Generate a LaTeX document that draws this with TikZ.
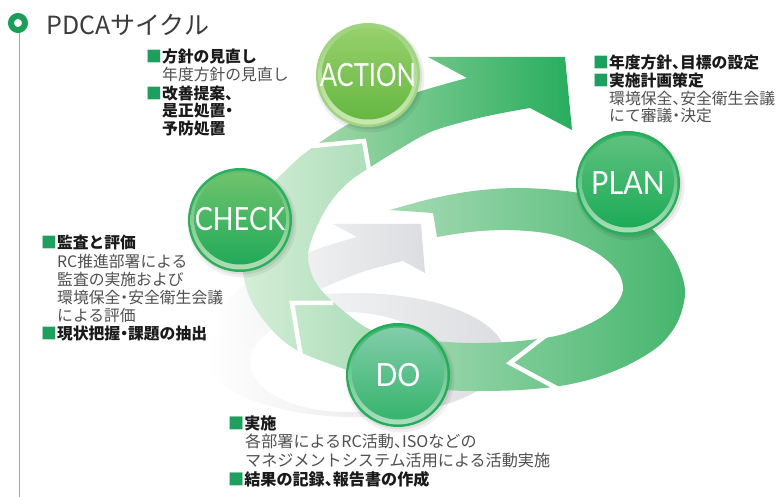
\documentclass[tikz,border=0pt]{standalone}
\usepackage{fontspec}
\usepackage{graphicx}
\newfontfamily\jp{Noto Sans CJK JP}
\newfontfamily\labfont{Lato}

\definecolor{markgreen}{HTML}{1C9E5A}
\definecolor{linegreen}{HTML}{72C394}
\definecolor{sqgreen}{HTML}{1E9F5E}
\definecolor{headtext}{HTML}{1A1A1A}
\definecolor{bodytext}{HTML}{505050}
\definecolor{titletext}{HTML}{3B3B3B}
\definecolor{bandlight}{HTML}{D6EED8}
\definecolor{banddark}{HTML}{45B56D}
\definecolor{toplight}{HTML}{A3D8AA}
\definecolor{topdark}{HTML}{27AD5D}
\definecolor{greyband}{HTML}{DCDDE0}

\newcommand\grsq{{\color{sqgreen}■}}
% half-width comma and middle dot
\newcommand\hcomma{\makebox[0.5em][l]{、}}
\newcommand\hdot{\makebox[0.5em][c]{・}}

% one round PDCA button: x, y, ring, rim top, rim bottom, disc top, disc bottom (HTML codes)
\newcommand\pdcabtn[7]{%
  \definecolor{btnring}{HTML}{#3}%
  \definecolor{btnrimt}{HTML}{#4}%
  \definecolor{btnrimb}{HTML}{#5}%
  \definecolor{btndisct}{HTML}{#6}%
  \definecolor{btndiscb}{HTML}{#7}%
  \fill[black,opacity=0.06] (#1+2,#2+3) circle (54.5);
  \fill[black,opacity=0.07] (#1+1.5,#2+2) circle (52.5);
  \fill[btnring] (#1,#2) circle (52);
  \shade[top color=btnrimt,bottom color=btnrimb] (#1,#2) circle (49.5);
  \shade[top color=btndisct,bottom color=btndiscb] (#1,#2-1.5) circle (46);
}

\begin{document}
\begin{tikzpicture}[x=1pt,y=-1pt,
  bd/.style={anchor=base west,inner sep=0pt,text=bodytext,
    font=\jp\fontsize{15.8}{18}\selectfont},
  hd/.style={bd,text=headtext,font=\jp\bfseries\fontsize{15.8}{18}\selectfont},
  bdl/.style={bd,font=\jp\fontsize{16.1}{18}\selectfont},
  hdl/.style={hd,font=\jp\bfseries\fontsize{16.1}{18}\selectfont},
  btnlabel/.style={text=white,inner sep=0pt,font=\labfont\fontsize{32}{36}\selectfont},
  gap/.style={draw=white,line width=4.5pt,line join=miter,miter limit=20}]

\useasboundingbox (0,0) rectangle (777,497);
\fill[white] (0,0) rectangle (777,497);

% heading marker and side rule
\coordinate (mark) at (18,23);
\coordinate (rulestart) at (19.5,32);
\coordinate (ruleend) at (19.5,497);
\draw[linegreen,line width=1.8pt] (rulestart) -- (ruleend);
\draw[markgreen,line width=6pt] (mark) circle (7);
\node[anchor=base west,inner sep=0pt,text=titletext,font=\jp\fontsize{25}{28}\selectfont] (title) at (46,35) {PDCAサイクル};

% grey lower cycle: ring and rising arrow
\shade[even odd rule,left color=white,right color=greyband]
  (355,355) ellipse (150 and 62) (345,362) ellipse (95 and 50);
\shade[left color=white,right color=greyband]
  plot[smooth] coordinates {(212,335) (220,310) (242,287) (276,268) (315,250) (357,237)}
  -- (333,224) -- (421,224) -- (425,273) -- (403,261)
  -- plot[smooth] coordinates {(403,261) (365,271) (325,287) (290,305) (263,325) (250,347)}
  -- cycle;

% green spiral: tail, right loop, bottom run and left rise
\shade[left color=bandlight,right color=banddark]
  plot[smooth,tension=0.55] coordinates {(390,210) (430,199) (473,191) (520,188) (573,192)
    (615,203) (650,227) (674,257) (685,290) (678,321) (660,345) (630,364) (595,378)
    (560,386) (520,390) (480,391) (447,390) (400,384) (360,374) (330,364) (300,352)
    (280,338) (262,318) (249,296) (243,272) (242,245) (249,217) (263,194) (283,173)
    (300,157) (316,145)}
  -- (364,141)
  -- plot[smooth,tension=0.55] coordinates {(369,168) (350,181) (332,200) (317,226)
    (308,254) (312,275) (321,290) (333,302)}
  -- plot[smooth,tension=0.55] coordinates {(340,308) (367,328) (400,338) (447,342)
    (480,343) (520,341) (560,335) (593,322) (614,307) (623,290) (618,272) (600,255)
    (573,241) (545,233) (507,230) (470,232) (437,237)}
  -- (433,213) -- cycle;

% green spiral: upper arrow with its head
\shade[left color=toplight,right color=topdark]
  (369,168) -- (364,141)
  -- plot[smooth,tension=0.55] coordinates {(316,145) (345,126) (380,108) (415,93) (467,78)}
  -- (428,57) -- (565,57) -- (572,130) -- (530,108)
  -- plot[smooth,tension=0.55] coordinates {(530,108) (483,117) (433,131) (398,150) (369,168)}
  -- cycle;

% white cuts between the spiral segments
\draw[gap] (312,146) -- (364,141) -- (369,170);
\draw[gap] (301,357) -- (292,303) -- (333,303);
\draw[gap] (549,333) -- (510,363) -- (562,391);

% buttons
\pdcabtn{368}{75}{A0D482}{9FD37E}{C8E8B0}{97D06C}{66B742}
\pdcabtn{628}{183}{26AD5B}{34B165}{ABDDB8}{5EC17F}{1CAB56}
\pdcabtn{240}{220}{2BAF5C}{5DBD72}{ADDDB4}{70C36C}{21AA59}
\pdcabtn{398}{375}{22AD58}{3DB46C}{ADDDC0}{82CDAA}{36B46C}

\node[btnlabel] (action) at (368,75) {\scalebox{0.8}[1]{ACTION}};
\node[btnlabel] (plan) at (628,183) {\scalebox{0.9}[1]{PLAN}};
\node[btnlabel] (check) at (240,219) {\scalebox{0.85}[1]{CHECK}};
\node[btnlabel] (do) at (398,375) {\scalebox{0.9}[1]{DO}};

% ACTION notes
\node[hd] (act1) at (146,63) {\grsq 方針の見直し};
\node[bd] (act2) at (162,81) {年度方針の見直し};
\node[hd] (act3) at (146,99.5) {\grsq 改善提案\hcomma};
\node[hd] (act4) at (162,117) {是正処置\hdot};
\node[hd] (act5) at (162,135) {予防処置};

% PLAN notes
\node[hd] (pl1) at (593,69) {\grsq 年度方針\hcomma 目標の設定};
\node[hd] (pl2) at (593,86.5) {\grsq 実施計画策定};
\node[bd] (pl3) at (609,104.5) {環境保全\hcomma 安全衛生会議};
\node[bd] (pl4) at (609,121.5) {にて審議\hdot 決定};

% CHECK notes
\node[hd] (ch1) at (41,249) {\grsq 監査と評価};
\node[bd] (ch2) at (57,268) {RC推進部署による};
\node[bd] (ch3) at (57,286) {監査の実施および};
\node[bd] (ch4) at (57,304) {環境保全\hdot 安全衛生会議};
\node[bd] (ch5) at (57,321.5) {による評価};
\node[hd] (ch6) at (41,340) {\grsq 現状把握\hdot 課題の抽出};

% DO notes
\node[hdl] (do1) at (228,429) {\grsq 実施};
\node[bdl] (do2) at (245,447.5) {各部署によるRC活動\hcomma ISOなどの};
\node[bdl] (do3) at (245,466) {マネジメントシステム活用による活動実施};
\node[hdl] (do4) at (228,485) {\grsq 結果の記録\hcomma 報告書の作成};

\end{tikzpicture}
\end{document}
